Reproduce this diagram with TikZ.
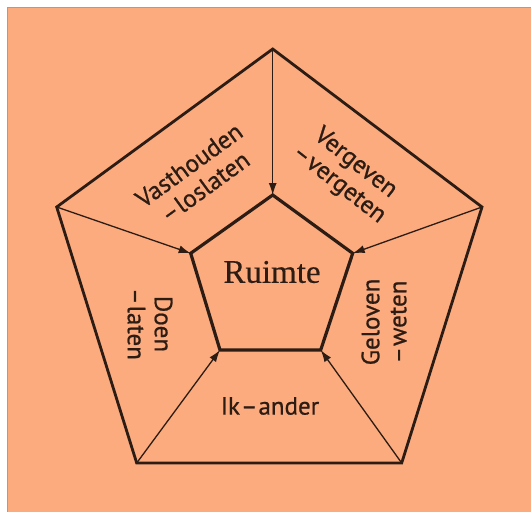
\documentclass[tikz,border=0pt]{standalone}
\usepackage{fontspec}
\newfontfamily\labelfont[FakeBold=0.7]{PT Sans}
\newfontfamily\centerfont[FakeBold=0.4]{Liberation Serif}
\usetikzlibrary{arrows.meta}
\definecolor{peach}{RGB}{251,171,125}
\definecolor{rim}{RGB}{240,140,50}
\definecolor{ink}{RGB}{45,28,20}
\tikzset{
  outerline/.style={draw=ink, line width=2.8pt, line join=miter},
  innerline/.style={draw=ink, line width=3.2pt, line join=miter},
  arrowline/.style={draw=ink, line width=1.3pt, -{Latex[length=12pt,width=8pt]}},
  lbl/.style={text=ink, font=\labelfont\fontsize{25}{27}\selectfont, align=center, inner sep=0pt},
  bigl/.style={text=ink, font=\centerfont\fontsize{33}{35}\selectfont, inner sep=0pt}
}
\begin{document}
\begin{tikzpicture}[x=1pt,y=-1pt]
\useasboundingbox (0,0) rectangle (531,512);
\fill[white] (0,0) rectangle (531,512);
\fill[peach] (7,7) rectangle (531,512);
\draw[rim, line width=1.5pt] (7.5,512) -- (7.5,7.5) -- (531,7.5);
% vertices
\coordinate (o1) at (272.7,49);
\coordinate (o2) at (482,207);
\coordinate (o3) at (401.7,463);
\coordinate (o4) at (136.7,463);
\coordinate (o5) at (56.7,207);
\coordinate (i1) at (272.7,195);
\coordinate (i2) at (352.7,253.3);
\coordinate (i3) at (320.7,350);
\coordinate (i4) at (220,350);
\coordinate (i5) at (190.7,253.3);
% spokes
\draw[arrowline] (o1) -- (i1);
\draw[arrowline] (o2) -- (i2);
\draw[arrowline] (o3) -- (i3);
\draw[arrowline] (o4) -- (i4);
\draw[arrowline] (o5) -- (i5);
% pentagons
\draw[outerline] (o1) -- (o2) -- (o3) -- (o4) -- (o5) -- cycle;
\draw[innerline] (i1) -- (i2) -- (i3) -- (i4) -- (i5) -- cycle;
% labels
\node[bigl] (ruimte) at (272,272) {Ruimte};
\node[lbl, rotate=36] (vast) at (197,176) {Vasthouden\\–\kern1pt loslaten};
\node[lbl, rotate=-38] (verg) at (347,174) {Vergeven\\–\kern1pt vergeten};
\node[lbl, rotate=-90] (doen) at (150,324) {Doen\\–\kern1pt laten};
\node[lbl, rotate=90] (gel) at (384,322) {Geloven\\–\kern1pt weten};
\node[lbl] (ik) at (270,406) {Ik\kern1pt–\kern1pt ander};
\end{tikzpicture}
\end{document}
